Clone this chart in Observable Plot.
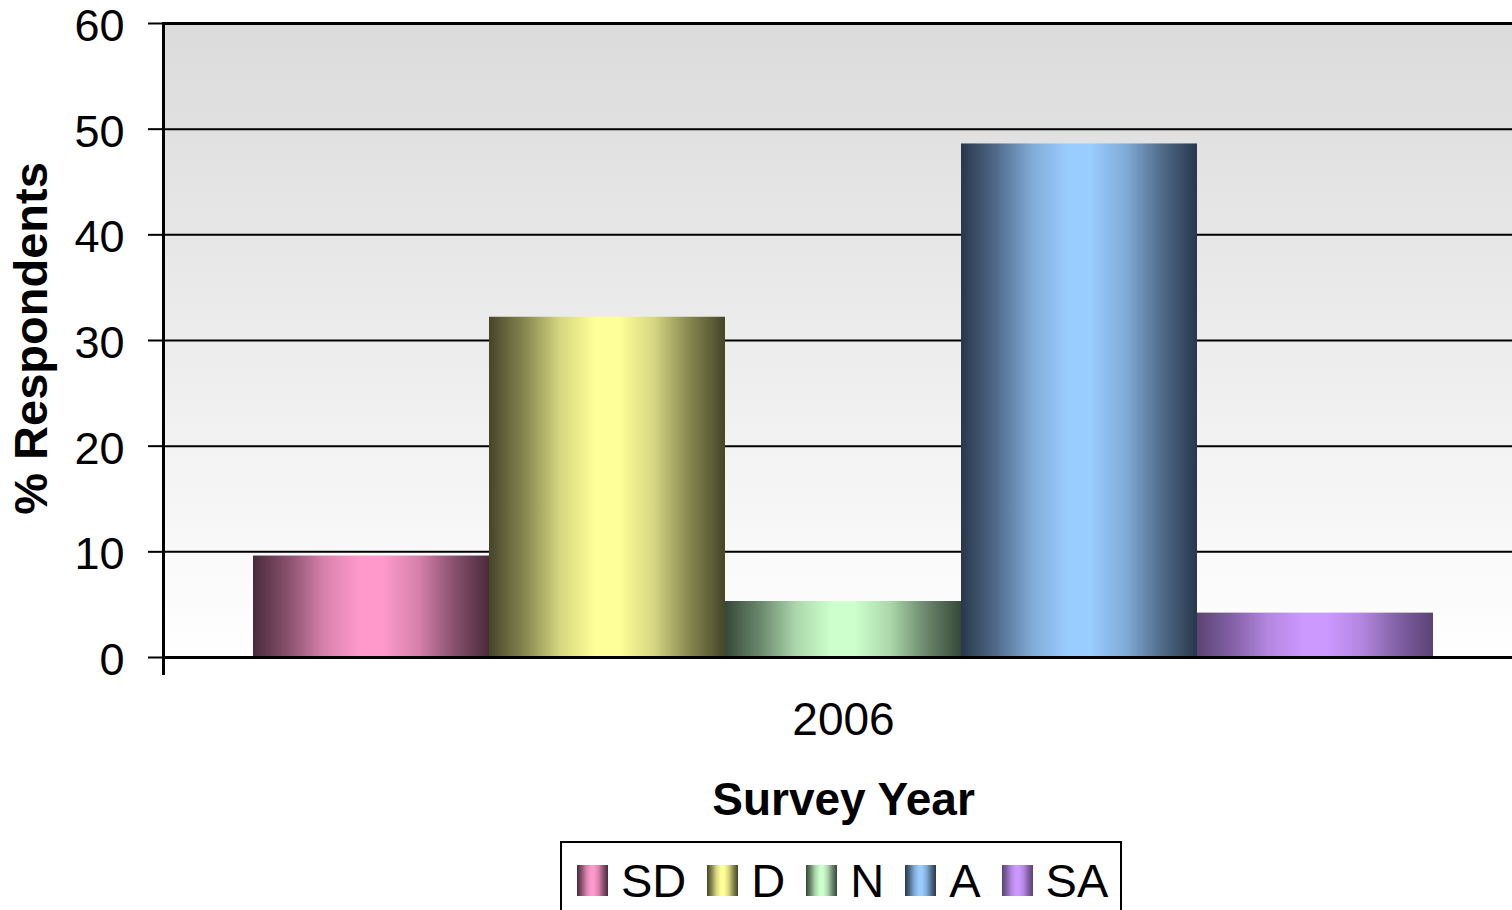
<!DOCTYPE html>
<html>
<head>
<meta charset="utf-8">
<script src="https://cdn.jsdelivr.net/npm/d3@7"></script>
<script src="https://cdn.jsdelivr.net/npm/@observablehq/plot@0.6"></script>
<style>
  html, body { margin: 0; padding: 0; background: white; overflow: hidden; }
  body { width: 1512px; height: 910px; font-family: "Liberation Sans", Arial, sans-serif; }
  #legend {
    position: absolute; left: 560px; top: 841px; width: 558px; height: 80px;
    border: 2px solid black; box-sizing: content-box; background: white;
  }
  #legend .row { display: flex; align-items: center; padding-left: 15px; padding-top: 14px; }
  #legend .sw { width: 31px; height: 31px; margin-right: 13px; flex: none; }
  #legend .lb { font-size: 47px; line-height: 47px; margin-right: 21px; color: black; flex: none; }
</style>
</head>
<body>
<svg width="0" height="0" style="position:absolute"><defs id="gdefs"></defs></svg>
<div id="chart"></div>
<div id="legend"><div class="row"></div></div>
<script>
// ---- data ----
const categories = ["SD", "D", "N", "A", "SA"];
const values = [9.6, 32.2, 5.3, 48.6, 4.2];
const years = ["2006"];
const yTicks = [0, 10, 20, 30, 40, 50, 60];
const gridValues = [10, 20, 30, 40, 50];

// ---- styles (colours) ----
const lightColors = ["#ff99cc", "#ffff99", "#ccffcc", "#99ccff", "#cc99ff"];
const darkColors  = ["#4a2a3b", "#454528", "#364838", "#28374a", "#5a4374"];

const data = categories.map((c, i) => ({year: years[0], cat: c, value: values[i]}));

// gradient definitions
const defs = d3.select("#gdefs");
const bg = defs.append("linearGradient").attr("id", "bg-grad")
  .attr("x1", 0).attr("y1", 0).attr("x2", 0).attr("y2", 1);
bg.append("stop").attr("offset", "0%").attr("stop-color", "#dbdbdb");
bg.append("stop").attr("offset", "55%").attr("stop-color", "#eeeeee");
bg.append("stop").attr("offset", "100%").attr("stop-color", "#ffffff");

const stopSpec = [[0, 0], [0.15, 0.35], [0.3, 0.78], [0.45, 1], [0.55, 1], [0.7, 0.78], [0.85, 0.35], [1, 0]];
categories.forEach((c, i) => {
  const g = defs.append("linearGradient").attr("id", "grad-" + c)
    .attr("x1", 0).attr("y1", 0).attr("x2", 1).attr("y2", 0);
  const interp = d3.interpolateRgb(darkColors[i], lightColors[i]);
  stopSpec.forEach(([o, t]) => {
    g.append("stop").attr("offset", o).attr("stop-color", interp(t));
  });
});

const chart = Plot.plot({
  width: 1523,
  height: 835,
  marginLeft: 163,
  marginRight: 0,
  marginTop: 23,
  marginBottom: 178,
  style: {
    fontFamily: "'Liberation Sans', Arial, sans-serif",
    fontSize: "45px",
    color: "black",
    background: "transparent",
    maxWidth: "none",
    overflow: "visible"
  },
  fx: {domain: years, padding: 0, label: null},
  x: {domain: categories, paddingInner: 0, paddingOuter: 0.376, axis: null},
  y: {domain: [0, 60], label: null},
  color: {type: "identity"},
  marks: [
    Plot.frame({fill: "url(#bg-grad)", stroke: null}),
    Plot.ruleY(gridValues, {stroke: "black", strokeWidth: 2}),
    Plot.barY(data, {fx: "year", x: "cat", y: "value", fill: d => "url(#grad-" + d.cat + ")", inset: 0}),
    Plot.ruleY([60], {stroke: "black", strokeWidth: 3}),
    Plot.ruleY([0], {stroke: "black", strokeWidth: 3}),
    Plot.frame({anchor: "left", stroke: "black", strokeWidth: 3, insetBottom: -16}),
    Plot.axisY({ticks: yTicks, tickSize: 15, strokeWidth: 2, label: null, tickFormat: () => ""}),
    Plot.axisY({ticks: yTicks, tickSize: 0, tickPadding: 39, tickFormat: d => String(d), fontSize: 45, dy: 3, label: null, textStroke: null}),
    Plot.axisFx({anchor: "bottom", tickSize: 0, tickPadding: 45, fontSize: 46, label: null}),
    Plot.text(["% Respondents"], {frameAnchor: "left", textAnchor: "middle", lineAnchor: "middle", rotate: -90, dx: -132, dy: -2, fontSize: 47, fontWeight: "bold", fill: "black"}),
    Plot.text(["Survey Year"], {frameAnchor: "bottom", textAnchor: "middle", lineAnchor: "middle", dy: 143, fontSize: 46, fontWeight: "bold", fill: "black"})
  ]
});
document.getElementById("chart").appendChild(chart);

// legend
const row = d3.select("#legend .row");
categories.forEach((c, i) => {
  const d = darkColors[i], l = lightColors[i];
  const m1 = d3.interpolateRgb(d, l)(0.35), m2 = d3.interpolateRgb(d, l)(0.78);
  row.append("div").attr("class", "sw")
    .style("background", `linear-gradient(to right, ${d} 0%, ${m1} 15%, ${m2} 30%, ${l} 45%, ${l} 55%, ${m2} 70%, ${m1} 85%, ${d} 100%)`);
  row.append("div").attr("class", "lb").text(c);
});
</script>
</body>
</html>
